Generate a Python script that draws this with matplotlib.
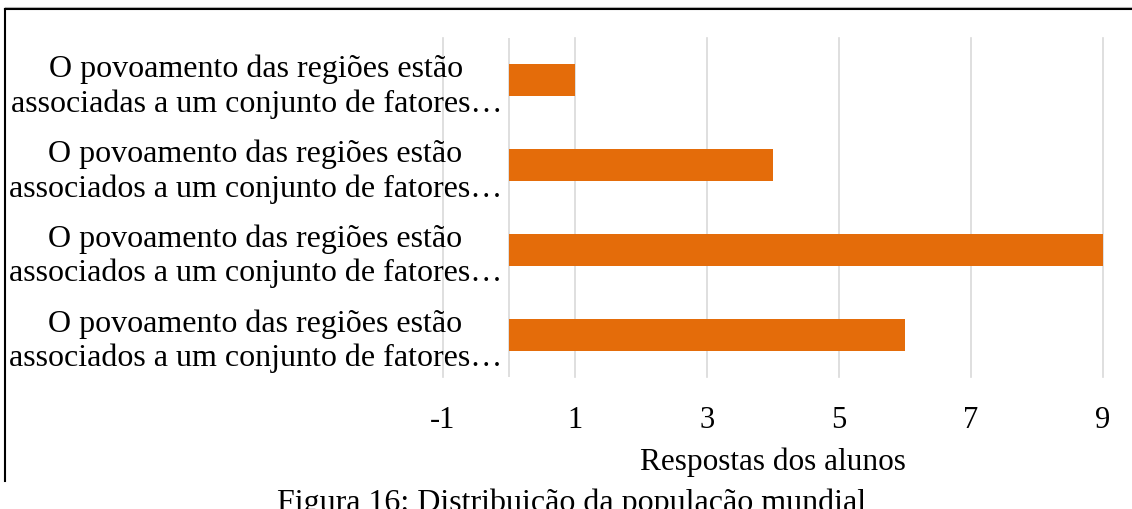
import matplotlib
matplotlib.use("Agg")
import matplotlib.pyplot as plt
from matplotlib.lines import Line2D

categories = [
    "O povoamento das regiões estão\nassociadas a um conjunto de fatores…",
    "O povoamento das regiões estão\nassociados a um conjunto de fatores…",
    "O povoamento das regiões estão\nassociados a um conjunto de fatores…",
    "O povoamento das regiões estão\nassociados a um conjunto de fatores…",
]
values = [1, 4, 9, 6]
xticks = [-1, 1, 3, 5, 7, 9]
xlabel = "Respostas dos alunos"
caption = "Figura 16: Distribuição da população mundial"

plt.rcParams['font.family'] = ['Liberation Serif', 'DejaVu Serif']

W, H = 1132, 510
fig = plt.figure(figsize=(W / 100, H / 100), dpi=100)
ax = fig.add_axes([443 / W, 1 - 378 / H, (1103 - 443) / W, (378 - 39) / H])

ypos = list(range(len(categories)))
ax.barh(ypos, values, height=0.38, color='#E46C0A', zorder=3)
ax.set_ylim(len(categories) - 0.5, -0.5)
ax.set_xlim(-1, 9)
ax.set_xticks(xticks)
ax.set_xticklabels([str(t) for t in xticks])
ax.set_yticks([])
ax.tick_params(axis='x', length=0, pad=20, labelsize=22)
for s in ax.spines.values():
    s.set_visible(False)
ax.grid(axis='x', color='#D9D9D9', linewidth=1.2, zorder=0)
for gl in ax.get_xgridlines():
    gl.set_clip_on(False)
ax.axvline(0, color='#D9D9D9', linewidth=1.2, zorder=1)
ax.set_axisbelow(True)

for i, lab in zip(ypos, categories):
    ax.annotate(lab, xy=(0, i), xytext=(-5, -4), textcoords='offset points',
                ha='right', va='center', multialignment='center',
                fontsize=23, linespacing=1.22, zorder=4)

ax.set_xlabel(xlabel, fontsize=22.5)
ax.xaxis.set_label_coords(0.5, -0.205)

fig.text(572 / W, 1 - 488 / H, caption, ha='center', va='top', fontsize=23)

# frame lines
fig.add_artist(Line2D([5 / W, 1.0], [1 - 8 / H, 1 - 8 / H], color='#BBBBBB', linewidth=0.8))
fig.add_artist(Line2D([5 / W, 1.0], [1 - 10 / H, 1 - 10 / H], color='black', linewidth=1.5))
fig.add_artist(Line2D([5 / W, 5 / W], [1 - 10 / H, 1 - 482 / H], color='black', linewidth=1.5))

fig.savefig("out.png", dpi=100)
